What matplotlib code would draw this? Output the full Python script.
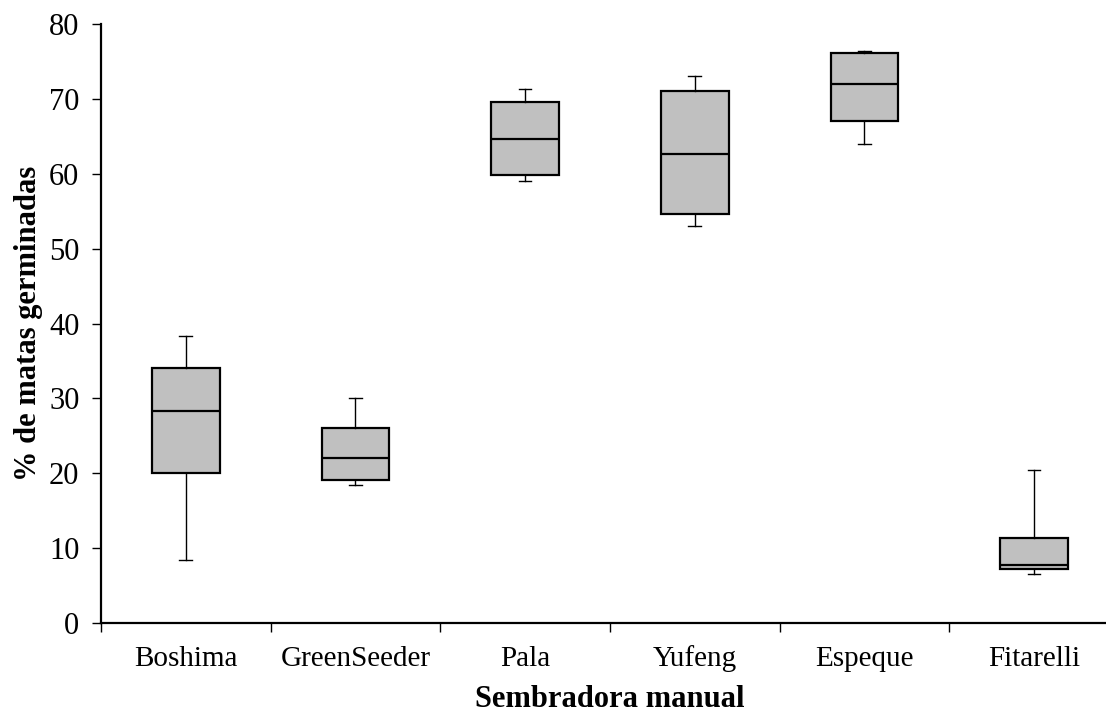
import numpy as np
import matplotlib.pyplot as plt

plt.rcParams['font.family'] = ['Liberation Serif', 'DejaVu Serif']

# box statistics (% germinated)
categories = ["Boshima", "GreenSeeder", "Pala", "Yufeng", "Espeque", "Fitarelli"]
whisker_low = [8.4, 18.5, 59.0, 53.0, 64.0, 6.5]
q1 = [20.1, 19.1, 59.9, 54.6, 67.0, 7.2]
median = [28.3, 22.1, 64.6, 62.6, 72.0, 7.8]
q3 = [34.0, 26.1, 69.6, 71.0, 76.1, 11.3]
whisker_high = [38.4, 30.1, 71.3, 73.1, 76.4, 20.4]

stats = []
for i, name in enumerate(categories):
    stats.append(dict(label=name, whislo=whisker_low[i], q1=q1[i], med=median[i],
                      q3=q3[i], whishi=whisker_high[i], fliers=[]))

fig = plt.figure(figsize=(11.06, 7.13), dpi=100)
ax = fig.add_axes([0.0913, 0.1262, 0.9204, 0.8401])

pos = np.arange(1, len(categories) + 1)
ax.bxp(stats, positions=pos, widths=0.4, patch_artist=True, showfliers=False,
       capwidths=0.075,
       boxprops=dict(facecolor="#c0c0c0", edgecolor="black", linewidth=1.6),
       medianprops=dict(color="black", linewidth=1.6),
       whiskerprops=dict(color="black", linewidth=1.0),
       capprops=dict(color="black", linewidth=1.0))

ax.set_xlim(0.5, len(categories) + 0.5)
ax.set_ylim(0, 80)
ax.set_yticks(np.arange(0, 81, 10))
ax.set_xticks(np.arange(0.5, len(categories) + 1, 1.0))
ax.set_xticklabels([])
ax.set_xticks(pos, minor=True)
ax.set_xticklabels(categories, minor=True, fontsize=21, va="baseline")
ax.tick_params(axis="x", which="minor", length=0, pad=31)
ax.tick_params(axis="x", which="major", length=6.5, width=1, direction="out")
ax.tick_params(axis="y", labelsize=22, length=6.5, width=1, direction="out", pad=9)

for s in ["top", "right"]:
    ax.spines[s].set_visible(False)
for s in ["left", "bottom"]:
    ax.spines[s].set_linewidth(1.6)

ax.set_xlabel("Sembradora manual", fontsize=22, fontweight="bold", labelpad=9)
ax.set_ylabel("% de matas germinadas", fontsize=22, fontweight="bold", labelpad=4.5)

fig.savefig("out.png", dpi=100)
